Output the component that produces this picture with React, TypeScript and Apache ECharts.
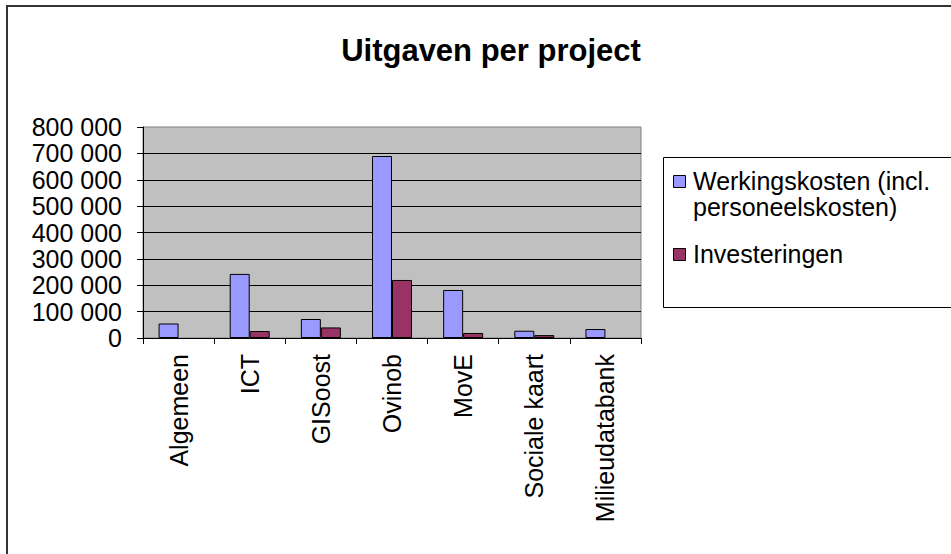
import React, { useEffect, useRef } from "react";
import * as echarts from "echarts";

const categories = ["Algemeen", "ICT", "GISoost", "Ovinob", "MovE", "Sociale kaart", "Milieudatabank"];
const werkingskosten = [55000, 243000, 72000, 690000, 182000, 27500, 34000];
const investeringen = [null, 26500, 40000, 220000, 19000, 11000, null];
const seriesNames = ["Werkingskosten (incl.\npersoneelskosten)", "Investeringen"];
const titleText = "Uitgaven per project";

const FONT = "'Liberation Sans', Arial, sans-serif";
const BLUE = "#9999FF";
const PLUM = "#993366";

function fmt(v: number): string {
  return String(v).replace(/\B(?=(\d{3})+(?!\d))/g, " ");
}

export default function App() {
  const ref = useRef<HTMLDivElement>(null);
  useEffect(() => {
    if (!ref.current) return;
    const chart = echarts.init(ref.current, null, { renderer: "svg" });
    chart.setOption({
      animation: false,
      backgroundColor: "#ffffff",
      title: {
        text: titleText,
        left: 486,
        top: 30,
        textAlign: "center",
        textStyle: { fontFamily: FONT, fontSize: 31, fontWeight: "bold", color: "#000" },
      },
      grid: {
        left: 143,
        top: 127,
        width: 498,
        height: 211,
        show: true,
        backgroundColor: "#C0C0C0",
        borderColor: "#808080",
        borderWidth: 1,
        containLabel: false,
      },
      xAxis: {
        type: "category",
        data: categories,
        boundaryGap: true,
        axisLine: { show: true, lineStyle: { color: "#000", width: 1 } },
        axisTick: { show: true, length: 6, inside: false, alignWithLabel: false, lineStyle: { color: "#000" } },
        axisLabel: {
          rotate: 90,
          margin: 16,
          interval: 0,
          fontFamily: FONT,
          fontSize: 25,
          color: "#000",
        },
        splitLine: { show: false },
      },
      yAxis: {
        type: "value",
        min: 0,
        max: 800000,
        interval: 100000,
        axisLine: { show: true, lineStyle: { color: "#000", width: 1 } },
        axisTick: { show: true, length: 6, inside: false, lineStyle: { color: "#000" } },
        axisLabel: {
          margin: 21,
          fontFamily: FONT,
          fontSize: 25,
          color: "#000",
          formatter: (v: number) => fmt(v),
        },
        splitLine: { show: true, showMaxLine: false, lineStyle: { color: "#000", width: 1 } },
      },
      series: [
        {
          name: seriesNames[0],
          type: "bar",
          data: werkingskosten,
          barWidth: 20,
          barGap: "0%",
          itemStyle: { color: BLUE, borderColor: "#000", borderWidth: 1 },
        },
        {
          name: seriesNames[1],
          type: "bar",
          data: investeringen,
          barWidth: 20,
          barGap: "0%",
          itemStyle: { color: PLUM, borderColor: "#000", borderWidth: 1 },
        },
      ],
      graphic: [
        {
          type: "rect",
          shape: { x: 7, y: 6, width: 2000, height: 2000 },
          style: { fill: "none", stroke: "#333", lineWidth: 2 },
          z: 100,
        },
        {
          type: "rect",
          shape: { x: 663.5, y: 157.5, width: 400, height: 150 },
          style: { fill: "#fff", stroke: "#000", lineWidth: 1 },
          z: 10,
        },
        {
          type: "rect",
          shape: { x: 673.5, y: 175.5, width: 12, height: 12 },
          style: { fill: BLUE, stroke: "#000", lineWidth: 1 },
          z: 11,
        },
        {
          type: "text",
          x: 693,
          y: 168,
          style: {
            text: seriesNames[0],
            font: `25px ${FONT}`,
            fill: "#000",
            verticalAlign: "top",
            lineHeight: 26,
          },
          z: 11,
        },
        {
          type: "rect",
          shape: { x: 673.5, y: 248.5, width: 12, height: 12 },
          style: { fill: PLUM, stroke: "#000", lineWidth: 1 },
          z: 11,
        },
        {
          type: "text",
          x: 693,
          y: 254,
          style: {
            text: seriesNames[1],
            font: `25px ${FONT}`,
            fill: "#000",
            verticalAlign: "middle",
          },
          z: 11,
        },
      ],
    });
    return () => chart.dispose();
  }, []);
  return (
    <div
      ref={ref}
      style={{ position: "fixed", left: 0, top: 0, width: 951, height: 554 }}
    />
  );
}
